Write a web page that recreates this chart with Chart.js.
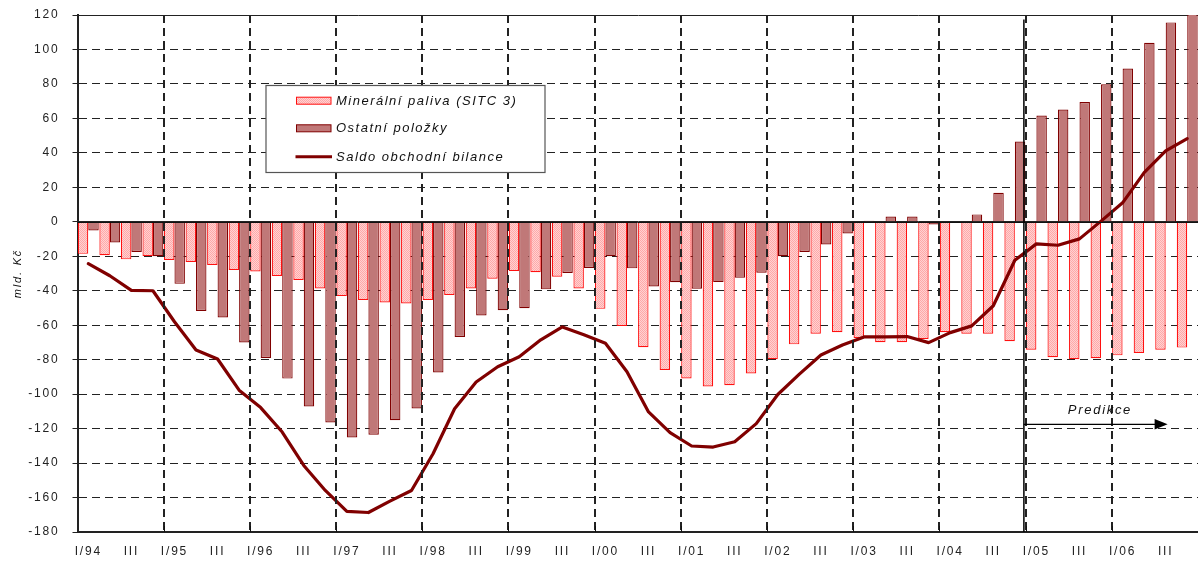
<!DOCTYPE html>
<html><head><meta charset="utf-8">
<script src="https://cdn.jsdelivr.net/npm/chart.js@4"></script>
<style>html,body{margin:0;padding:0;background:#fff;}canvas{display:block;}</style>
</head><body>
<canvas id="c" width="1198" height="565"></canvas>
<script>
const categories = [
 'I/94','II/94','III/94','IV/94','I/95','II/95','III/95','IV/95','I/96','II/96','III/96','IV/96',
 'I/97','II/97','III/97','IV/97','I/98','II/98','III/98','IV/98','I/99','II/99','III/99','IV/99',
 'I/00','II/00','III/00','IV/00','I/01','II/01','III/01','IV/01','I/02','II/02','III/02','IV/02',
 'I/03','II/03','III/03','IV/03','I/04','II/04','III/04','IV/04','I/05','II/05','III/05','IV/05',
 'I/06','II/06','III/06','IV/06'
];
const tickLabels = [
 'I/94','','III','','I/95','','III','','I/96','','III','',
 'I/97','','III','','I/98','','III','','I/99','','III','',
 'I/00','','III','','I/01','','III','','I/02','','III','',
 'I/03','','III','','I/04','','III','','I/05','','III','',
 'I/06','','III',''
];
const mineralFuels = [
 -18.6,-19.4,-21.8,-19.8,-22.1,-23.3,-25,-28,-28.8,-31.5,-33.7,-38.7,
 -43.1,-45.4,-46.8,-47.4,-45.4,-42.5,-38.7,-33,-28.6,-29.3,-31.9,-38.7,
 -50.5,-60.4,-72.8,-86,-90.9,-95.5,-94.8,-88,-79.8,-71.1,-64.9,-64.1,
 -67.4,-69.9,-69.9,-68,-64.1,-65,-64.9,-69.3,-74.2,-78.6,-79.8,-79.2,
 -77.5,-76.1,-74.2,-73
];
const otherItems = [
 -5,-12,-17.5,-20,-36,-51.8,-55.5,-70,-79,-91,-107.2,-116.5,
 -125.2,-123.5,-115.1,-108.3,-87.4,-66.8,-54.4,-51.3,-50.1,-39.2,-29.7,-26.8,
 -20,-27,-37.5,-35.1,-38.8,-35,-32.4,-29.5,-20,-17.5,-13.2,-6.8,
 0.6,3.1,3.1,-1.5,0,4.3,16.9,46.6,61.7,65.2,69.5,79.8,
 88.9,103.9,115.7,121
];
const tradeBalance = [
 -24.3,-31.3,-39.8,-40,-58,-74.4,-79.6,-97.7,-107.8,-122,-141.4,-155.9,
 -168,-168.7,-162.1,-155.9,-134.6,-108.5,-93,-84.1,-78.3,-68.5,-61,-65.5,
 -70.5,-87,-110.3,-122.3,-130.1,-130.7,-127.6,-117.1,-100.2,-88.4,-77.3,-71.5,
 -66.8,-66.8,-66.6,-70.1,-64.3,-60.4,-48.7,-22.3,-12.8,-13.6,-9.9,0.4,
 11,28.5,41.1,48.3
];
const seriesNames = ['Minerální paliva (SITC 3)','Ostatní položky','Saldo obchodní bilance'];
const yAxisTitle = 'mld. Kč';
const forecastLabel = 'Predikce';

const FONT = 'Liberation Sans, Arial, sans-serif';

function makePattern(){
  const c = document.createElement('canvas'); c.width = 2; c.height = 2;
  const x = c.getContext('2d');
  x.fillStyle = '#FFD2D2'; x.fillRect(0,0,2,2);
  x.fillStyle = '#FFA8A8'; x.fillRect(0,0,1,1); x.fillRect(1,1,1,1);
  return x.createPattern(c,'repeat');
}
const pinkFill = makePattern();
const pinkBorder = '#FF1010';
const darkFill = '#C07878';
const darkBorder = '#800000';
const lineColor = '#800000';

function boundaryX(xs, i){
  return (xs.getPixelForTick(i) + xs.getPixelForTick(i - 1)) / 2;
}

const spacingPlugin = {
  id:'spacing',
  afterInit(chart){ chart.ctx.letterSpacing = '1.8px'; },
  beforeUpdate(chart){ chart.ctx.letterSpacing = '1.8px'; },
  beforeDraw(chart){ chart.ctx.letterSpacing = '1.8px'; }
};

const overlayPlugin = {
  id:'overlay',
  afterDatasetsDraw(chart){
    const ctx = chart.ctx, xs = chart.scales.x, ys = chart.scales.y, a = chart.chartArea;
    ctx.save();
    // year gridlines (dashed)
    ctx.strokeStyle = '#222'; ctx.lineWidth = 2; ctx.setLineDash([8,5]); ctx.lineDashOffset = 0;
    for (let i = 4; i < categories.length; i += 4) {
      const x = Math.round(boundaryX(xs, i));
      ctx.beginPath(); ctx.moveTo(x, a.top); ctx.lineTo(x, a.bottom); ctx.stroke();
    }
    ctx.setLineDash([]);
    // zero line
    const y0 = Math.round(ys.getPixelForValue(0)) + 0.5;
    ctx.strokeStyle = '#111'; ctx.lineWidth = 1;
    ctx.beginPath(); ctx.moveTo(a.left, y0); ctx.lineTo(a.right, y0); ctx.stroke();
    // inner ticks on x axis
    for (let i = 4; i < categories.length; i += 4) {
      const x = Math.round(boundaryX(xs, i)) + 0.5;
      ctx.beginPath(); ctx.moveTo(x, a.bottom); ctx.lineTo(x, a.bottom - 6); ctx.stroke();
    }
    // forecast divider
    const xv = xs.getPixelForValue(43.42);
    ctx.strokeStyle = '#000'; ctx.lineWidth = 1.5;
    ctx.beginPath(); ctx.moveTo(xv, ys.getPixelForValue(117.4)); ctx.lineTo(xv, a.bottom); ctx.stroke();
    // arrow
    const ya = ys.getPixelForValue(-117.5);
    const xt = xs.getPixelForValue(50.09);
    ctx.lineWidth = 1.2;
    ctx.beginPath(); ctx.moveTo(xv, ya); ctx.lineTo(xt - 12, ya); ctx.stroke();
    ctx.fillStyle = '#000';
    ctx.beginPath(); ctx.moveTo(xt, ya); ctx.lineTo(xt - 13, ya - 5.2); ctx.lineTo(xt - 13, ya + 5.2); ctx.closePath(); ctx.fill();
    ctx.font = 'italic 13px ' + FONT;
    ctx.letterSpacing = '1.7px';
    ctx.fillStyle = '#111'; ctx.textAlign = 'center'; ctx.textBaseline = 'middle';
    ctx.fillText(forecastLabel, xs.getPixelForValue(46.95), ys.getPixelForValue(-109.5));
    ctx.restore();
  },
  afterDraw(chart){
    const ctx = chart.ctx;
    ctx.save();
    const bx = 266, by = 85.5, bw = 279, bh = 87;
    ctx.fillStyle = '#fff'; ctx.fillRect(bx, by, bw, bh);
    ctx.strokeStyle = '#555'; ctx.lineWidth = 1.2; ctx.setLineDash([]);
    ctx.strokeRect(bx, by, bw, bh);
    const rows = [100.7, 128.3, 156.7];
    const sx = 296.5, sw = 34.5;
    ctx.fillStyle = pinkFill; ctx.fillRect(sx, rows[0]-3.5, sw, 7);
    ctx.strokeStyle = pinkBorder; ctx.lineWidth = 1; ctx.strokeRect(sx, rows[0]-3.5, sw, 7);
    ctx.fillStyle = darkFill; ctx.fillRect(sx, rows[1]-3.5, sw, 7);
    ctx.strokeStyle = darkBorder; ctx.lineWidth = 1; ctx.strokeRect(sx, rows[1]-3.5, sw, 7);
    ctx.strokeStyle = lineColor; ctx.lineWidth = 3;
    ctx.beginPath(); ctx.moveTo(sx - 1, rows[2]); ctx.lineTo(sx + sw + 1, rows[2]); ctx.stroke();
    ctx.font = 'italic 13px ' + FONT;
    ctx.letterSpacing = '1.5px';
    ctx.fillStyle = '#111'; ctx.textAlign = 'left'; ctx.textBaseline = 'middle';
    for (let i = 0; i < 3; i++) ctx.fillText(seriesNames[i], 336, rows[i] + 0.5);
    ctx.restore();
  }
};

new Chart(document.getElementById('c'), {
  type: 'bar',
  data: {
    labels: categories,
    datasets: [
      { type:'bar', label: seriesNames[0], data: mineralFuels, backgroundColor: pinkFill, borderColor: pinkBorder,
        borderWidth: 1.2, order: 1, categoryPercentage: 0.97, barPercentage: 1 },
      { type:'bar', label: seriesNames[1], data: otherItems, backgroundColor: darkFill, borderColor: darkBorder,
        borderWidth: 1.2, order: 1, categoryPercentage: 0.97, barPercentage: 1 },
      { type:'line', label: seriesNames[2], data: tradeBalance, borderColor: lineColor, borderWidth: 3.2,
        pointRadius: 0, tension: 0, fill: false, order: 0, borderJoinStyle: 'round', borderCapStyle: 'round' }
    ]
  },
  options: {
    responsive: false,
    animation: false,
    devicePixelRatio: 1,
    layout: { padding: { top: 15, right: 0, left: 0, bottom: 0 } },
    plugins: { legend: { display: false }, tooltip: { enabled: false } },
    scales: {
      x: {
        offset: true,
        grid: { display: false, offset: true, drawTicks: false },
        border: { display: true, color: '#222', width: 2 },
        ticks: { autoSkip: false, maxRotation: 0, minRotation: 0, padding: 12, color: '#222',
          font: { family: FONT, size: 12 }, callback: (v, i) => tickLabels[i] },
        afterFit: s => { s.height = 33; s.paddingLeft = 0; s.paddingRight = 0; }
      },
      y: {
        min: -180, max: 120,
        ticks: { stepSize: 20, padding: 13, color: '#222', font: { family: FONT, size: 12 } },
        grid: { color: '#222', lineWidth: 1, drawTicks: true, tickLength: 5, tickColor: '#222', tickBorderDash: [] },
        border: { display: true, color: '#222', width: 2,
          dash: c => (c.tick && (c.tick.value === 0 || c.tick.value === 120)) ? [] : [8,5] },
        title: { display: true, text: yAxisTitle, color: '#111',
          font: { family: FONT, size: 11, style: 'italic' }, padding: { top: 11, bottom: 0 } },
        afterFit: s => { s.width = 77.5; s.paddingTop = 0; s.paddingBottom = 0; }
      }
    }
  },
  plugins: [spacingPlugin, overlayPlugin]
});
</script>
</body></html>
